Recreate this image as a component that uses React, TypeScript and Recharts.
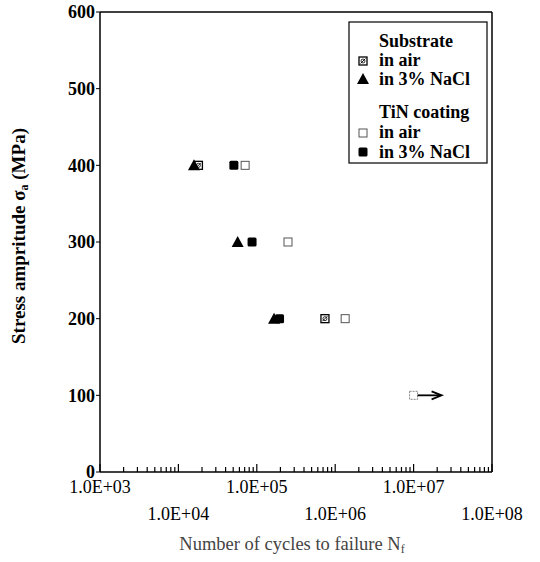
import { ScatterChart, Scatter, XAxis, YAxis, ReferenceLine, Customized } from "recharts";

// S-N data (N = cycles, s = stress amplitude MPa)
const substrateAir = [
  { n: 1.8e4, s: 400 },
  { n: 7.4e5, s: 200 },
];
const substrateNaCl = [
  { n: 1.58e4, s: 400 },
  { n: 5.7e4, s: 300 },
  { n: 1.66e5, s: 200 },
];
const tinAir = [
  { n: 7.1e4, s: 400 },
  { n: 2.5e5, s: 300 },
  { n: 1.34e6, s: 200 },
];
const tinAirRunout = [{ n: 1.0e7, s: 100 }];
const tinNaCl = [
  { n: 5.1e4, s: 400 },
  { n: 8.7e4, s: 300 },
  { n: 1.95e5, s: 200 },
];

const majorTicks = [1e3, 1e4, 1e5, 1e6, 1e7, 1e8];
const minorSteps = [2, 3, 4, 5, 6, 7, 8, 9];
const xTicks = majorTicks.flatMap((d, i) =>
  i < majorTicks.length - 1 ? [d, ...minorSteps.map((m) => m * d)] : [d]
);
const yTicks = [0, 100, 200, 300, 400, 500, 600];

const SERIF = "'Liberation Serif', 'Times New Roman', serif";

function XTick({ x, y, payload }: any) {
  const v = payload.value;
  const exp = Math.round(Math.log10(v));
  const major = Math.abs(v - Math.pow(10, exp)) < 1e-6 * v;
  return (
    <g>
      <line x1={x} x2={x} y1={y} y2={y - (major ? 8 : 5)} stroke="#000" strokeWidth={1.2} />
      {major && (
        <text
          x={x}
          y={y + (exp % 2 === 1 ? 21 : 48)}
          textAnchor="middle"
          fontFamily={SERIF}
          fontSize={18}
          fill="#000"
        >
          {`1.0E+0${exp}`}
        </text>
      )}
    </g>
  );
}

const SlashSquare = ({ cx, cy }: any) => (
  <g>
    <rect x={cx - 4} y={cy - 4} width={8} height={8} fill="#fff" stroke="#000" strokeWidth={1.3} />
    <circle cx={cx} cy={cy} r={2} fill="none" stroke="#000" strokeWidth={0.8} />
    <line x1={cx - 2.5} y1={cy + 2.5} x2={cx + 2.5} y2={cy - 2.5} stroke="#000" strokeWidth={0.9} />
  </g>
);
const Triangle = ({ cx, cy }: any) => (
  <path d={`M${cx - 6},${cy + 5} L${cx + 6},${cy + 5} L${cx},${cy - 6} Z`} fill="#000" />
);
const OpenSquare = ({ cx, cy }: any) => (
  <rect x={cx - 4} y={cy - 4} width={8} height={8} fill="#fff" stroke="#555" strokeWidth={1} />
);
const FilledSquare = ({ cx, cy }: any) => (
  <rect x={cx - 4.5} y={cy - 4.5} width={9} height={9} rx={1.5} fill="#000" />
);
const Runout = ({ cx, cy }: any) => (
  <g>
    <rect x={cx - 4} y={cy - 4} width={8} height={8} fill="#fff" stroke="#888" strokeWidth={1} strokeDasharray="2 1" />
    <line x1={cx + 4} y1={cy} x2={cx + 27} y2={cy} stroke="#000" strokeWidth={1.8} />
    <path d={`M${cx + 18},${cy - 4} L${cx + 28},${cy} L${cx + 18},${cy + 4}`} fill="none" stroke="#000" strokeWidth={1.8} />
  </g>
);

function Decorations() {
  const rows = [
    { y: 47, text: "Substrate", mark: null },
    { y: 66, text: "in air", mark: "slash" },
    { y: 85, text: "in 3% NaCl", mark: "tri" },
    { y: 118, text: "TiN coating", mark: null },
    { y: 138, text: "in  air", mark: "open" },
    { y: 158, text: "in 3% NaCl", mark: "fill" },
  ];
  return (
    <g>
      <rect x={349} y={22} width={138} height={141} fill="#fff" stroke="#000" strokeWidth={1.2} />
      {rows.map((r) => (
        <g key={r.y + r.text}>
          {r.mark === "slash" && <SlashSquare cx={363} cy={r.y - 5} />}
          {r.mark === "tri" && <Triangle cx={363} cy={r.y - 6} />}
          {r.mark === "open" && <OpenSquare cx={363} cy={r.y - 5} />}
          {r.mark === "fill" && <FilledSquare cx={363} cy={r.y - 6} />}
          <text x={379} y={r.y} fontFamily={SERIF} fontSize={18} fontWeight="bold" fill="#000">
            {r.text}
          </text>
        </g>
      ))}
      <text
        transform="translate(25,236) rotate(-90)"
        textAnchor="middle"
        fontFamily={SERIF}
        fontSize={19}
        fontWeight="bold"
        fill="#000"
      >
        Stress ampritude σ<tspan fontSize={12} dy={3}>a</tspan>
        <tspan dy={-3}>  (MPa)</tspan>
      </text>
      <text x={292} y={550} textAnchor="middle" fontFamily={SERIF} fontSize={18.5} fill="#444">
        Number of cycles to failure N<tspan fontSize={12} dy={3}>f</tspan>
      </text>
    </g>
  );
}

export default function App() {
  return (
    <div style={{ position: "absolute", left: 0, top: 0, background: "#fff" }}>
      <ScatterChart width={540} height={562} margin={{ top: 12, right: 48, bottom: 0, left: 0 }}>
        <XAxis
          type="number"
          dataKey="n"
          scale="log"
          domain={[1e3, 1e8]}
          allowDataOverflow
          ticks={xTicks}
          interval={0}
          tickSize={0}
          tickMargin={0}
          tickLine={false}
          tick={<XTick />}
          axisLine={{ stroke: "#000", strokeWidth: 1.5 }}
          height={90}
        />
        <YAxis
          type="number"
          dataKey="s"
          domain={[0, 600]}
          ticks={yTicks}
          interval={0}
          tickSize={4}
          tickMargin={1}
          tickLine={{ stroke: "#000" }}
          axisLine={{ stroke: "#000", strokeWidth: 1.5 }}
          tick={{ fill: "#000", fontSize: 18, fontWeight: "bold", fontFamily: SERIF }}
          width={100}
        />
        <ReferenceLine y={600} stroke="#000" strokeWidth={1.5} />
        <ReferenceLine x={1e8} stroke="#000" strokeWidth={1.5} />
        <Scatter data={substrateAir} shape={(p: any) => <SlashSquare cx={p.cx} cy={p.cy} />} isAnimationActive={false} />
        <Scatter data={substrateNaCl} shape={(p: any) => <Triangle cx={p.cx} cy={p.cy} />} isAnimationActive={false} />
        <Scatter data={tinAir} shape={(p: any) => <OpenSquare cx={p.cx} cy={p.cy} />} isAnimationActive={false} />
        <Scatter data={tinAirRunout} shape={(p: any) => <Runout cx={p.cx} cy={p.cy} />} isAnimationActive={false} />
        <Scatter data={tinNaCl} shape={(p: any) => <FilledSquare cx={p.cx} cy={p.cy} />} isAnimationActive={false} />
        <Customized component={<Decorations />} />
      </ScatterChart>
    </div>
  );
}
